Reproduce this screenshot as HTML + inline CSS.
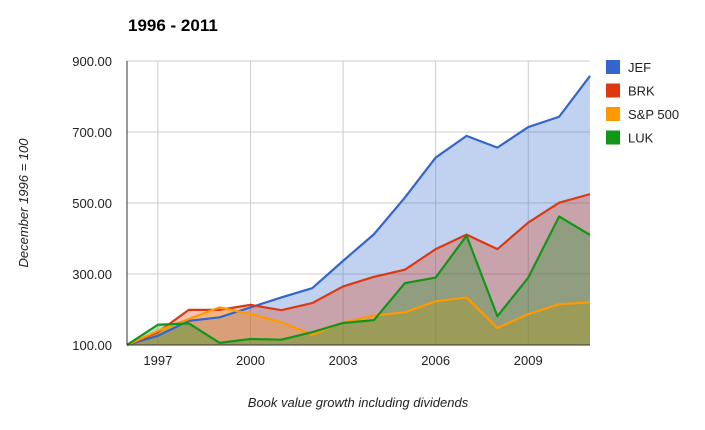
<!DOCTYPE html>
<html><head><meta charset="utf-8"><style>
body{margin:0;background:#fff;font-family:"Liberation Sans",Arial,sans-serif}
svg text{font-family:"Liberation Sans",Arial,sans-serif}
</style></head><body>
<svg id="chart" width="705" height="425" viewBox="0 0 705 425">
<text x="128" y="31" font-size="17" font-weight="bold" fill="#000">1996 - 2011</text>
<g id="grid"></g><g id="areas"></g><g id="lines"></g><g id="axes"></g><g id="legend"></g>
<text x="28" y="203" font-size="13" font-style="italic" fill="#222" text-anchor="middle" transform="rotate(-90 28 203)">December 1996 = 100</text>
<text x="358" y="407" font-size="13" font-style="italic" fill="#222" text-anchor="middle">Book value growth including dividends</text>
</svg>
<script>
const years=[1996,1997,1998,1999,2000,2001,2002,2003,2004,2005,2006,2007,2008,2009,2010,2011];
const jef=[100,126,168,178,206,234,260,337,412,515,628,689,656,714,743,858];
const brk=[100,136,199,199,213,198,218,265,292,312,370,411,370,445,501,525];
const sp500=[100,140,173,206,187,164,129,164,183,192,223,234,148,187,215,220];
const luk=[100,157,161,106,117,115,136,162,170,274,290,408,181,290,462,410];
const seriesNames=["JEF","BRK","S&P 500","LUK"];
const seriesColors=["#3366cc","#dc3912","#ff9900","#109618"];
const yTicks=[100,300,500,700,900];
const yTickLabels=["100.00","300.00","500.00","700.00","900.00"];
const xTicks=[1997,2000,2003,2006,2009];
const NS="http://www.w3.org/2000/svg";
const L=127,R=590,T=61,B=345;
const x=v=>L+(v-1996)/(2011-1996)*(R-L);
const y=v=>B-(v-100)/(900-100)*(B-T);
function mk(tag,attrs,parent){const e=document.createElementNS(NS,tag);for(const k in attrs)e.setAttribute(k,attrs[k]);document.getElementById(parent).appendChild(e);return e;}
yTicks.forEach((t,i)=>{
 if(t>100){const g=mk('line',{x1:L,x2:R,y1:y(t),y2:y(t),stroke:'#ccc','stroke-width':1},'grid');
 
 }
 const tx=mk('text',{x:L-15,y:y(t)+5,'font-size':13,fill:'#222','text-anchor':'end'},'axes');tx.textContent=yTickLabels[i];
 
 
});
xTicks.forEach(t=>{
 const g=mk('line',{x1:x(t),x2:x(t),y1:T,y2:B,stroke:'#ccc','stroke-width':1},'grid');
 
 
 const tx=mk('text',{x:x(t),y:B+20,'font-size':13,fill:'#222','text-anchor':'middle'},'axes');tx.textContent=t;
 
 
});
const ax=mk('line',{x1:L,x2:L,y1:T,y2:B,stroke:'#333','stroke-width':1},'axes');


const bx=mk('line',{x1:L,x2:R,y1:B,y2:B,stroke:'#333','stroke-width':1},'axes');


[jef,brk,sp500,luk].forEach((s,i)=>{
 const pts=s.map((v,j)=>x(years[j])+','+y(v)).join(' ');
 const a=mk('polygon',{points:x(years[0])+','+B+' '+pts+' '+x(years[years.length-1])+','+B,fill:seriesColors[i],'fill-opacity':0.3},'areas');
 
 
 const l=mk('polyline',{points:pts,fill:'none',stroke:seriesColors[i],'stroke-width':2.2,'stroke-linejoin':'round'},'lines');
 
 
 const r=mk('rect',{x:606,y:60+i*23.5,width:14,height:14,fill:seriesColors[i]},'legend');
 
 
 const t=mk('text',{x:628,y:72+i*23.5,'font-size':13,fill:'#222'},'legend');t.textContent=seriesNames[i];
 
 
});
</script>
</body></html>
